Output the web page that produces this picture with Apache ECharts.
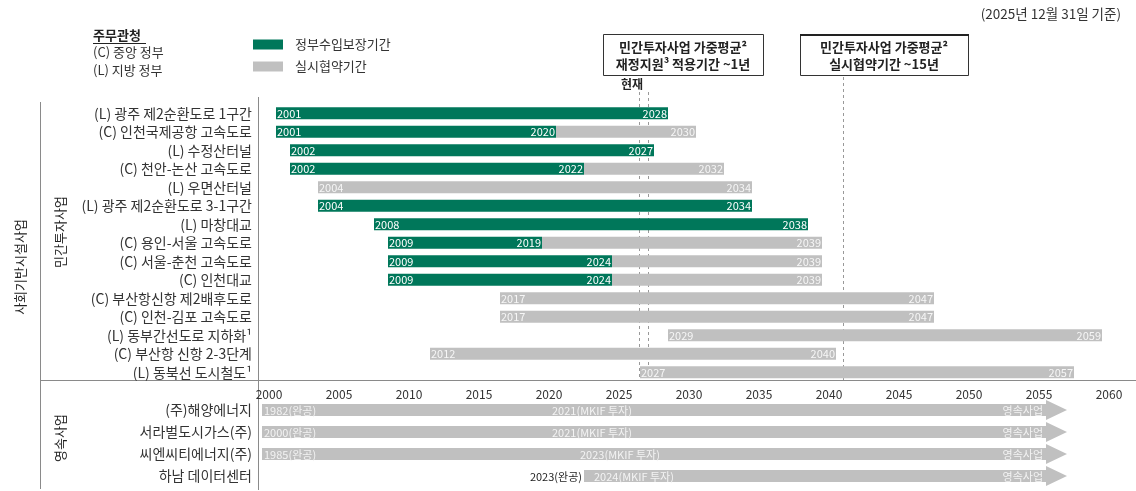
<!DOCTYPE html>
<html><head><meta charset="utf-8">
<script src="https://cdn.jsdelivr.net/npm/echarts@6/dist/echarts.min.js"></script>
<style>html,body{margin:0;padding:0;background:#fff}#c{width:1136px;height:491px}</style>
</head><body><div id="c"></div>
<script>
const FONT = "'Noto Sans CJK KR', 'Noto Sans', sans-serif";

// ---- data ----
const projects = [
  '(L) 광주 제2순환도로 1구간',
  '(C) 인천국제공항 고속도로',
  '(L) 수정산터널',
  '(C) 천안-논산 고속도로',
  '(L) 우면산터널',
  '(L) 광주 제2순환도로 3-1구간',
  '(L) 마창대교',
  '(C) 용인-서울 고속도로',
  '(C) 서울-춘천 고속도로',
  '(C) 인천대교',
  '(C) 부산항신항 제2배후도로',
  '(C) 인천-김포 고속도로',
  '(L) 동부간선도로 지하화¹',
  '(C) 부산항 신항 2-3단계',
  '(L) 동북선 도시철도¹'
];
const startYear    = [2001, 2001, 2002, 2002, 2004, 2004, 2008, 2009, 2009, 2009, 2017, 2017, 2029, 2012, 2027];
const guaranteeEnd = [2028, 2020, 2027, 2022, 0,    2034, 2038, 2019, 2024, 2024, 0,    0,    0,    0,    0];
const contractEnd  = [0,    2030, 0,    2032, 2034, 0,    0,    2039, 2039, 2039, 2047, 2047, 2059, 2040, 2057];

const perpetualNames = ['(주)해양에너지', '서라벌도시가스(주)', '씨엔씨티에너지(주)', '하남 데이터센터'];
const completionYear = [1982, 2000, 1985, 2023];
const mkifYear       = [2021, 2021, 2023, 2024];
const perpetualEnd   = 2056;

const axisTicks = [2000, 2005, 2010, 2015, 2020, 2025, 2030, 2035, 2040, 2045, 2050, 2055, 2060];
const nowLines = [2026.9, 2027.6];
const contractAvgLine = 2041.5;

// ---- build series data ----
const GREEN = '#00775a';
const GRAY = '#c0c0c0';
const greenData = [], grayData = [], permData = [];
projects.forEach((p, i) => {
  if (guaranteeEnd[i] > 0) greenData.push([i, startYear[i], guaranteeEnd[i] + 1, startYear[i], guaranteeEnd[i]]);
  if (contractEnd[i] > 0) {
    const hasG = guaranteeEnd[i] > 0;
    grayData.push([i, hasG ? guaranteeEnd[i] + 1 : startYear[i], contractEnd[i] + 1, hasG ? 0 : startYear[i], contractEnd[i]]);
  }
});
perpetualNames.forEach((n, i) => {
  permData.push([i, completionYear[i], perpetualEnd, completionYear[i], mkifYear[i]]);
});

function barRender(color, textFill) {
  return function (params, api) {
    const cat = api.value(0);
    const p0 = api.coord([api.value(1), cat]);
    const p1 = api.coord([api.value(2), cat]);
    const h = 12;
    const children = [{
      type: 'rect',
      shape: { x: p0[0], y: p0[1] - h / 2, width: p1[0] - p0[0], height: h },
      style: { fill: color }
    }];
    const sl = api.value(3);
    if (sl > 0) children.push({ type: 'text', style: { text: String(sl), x: p0[0] + 1, y: p0[1] + 0.5, align: 'left', verticalAlign: 'middle', fill: textFill, fontSize: 11, fontFamily: FONT } });
    children.push({ type: 'text', style: { text: String(api.value(4)), x: p1[0] - 1, y: p1[1] + 0.5, align: 'right', verticalAlign: 'middle', fill: textFill, fontSize: 11, fontFamily: FONT } });
    return { type: 'group', children };
  };
}

function permRender(params, api) {
  const cat = api.value(0);
  const axisMin = 2000;
  const comp = api.value(3), mk = api.value(4);
  const y = api.coord([axisMin, cat])[1];
  const x0 = api.coord([Math.max(api.value(1), axisMin), cat])[0];
  const x1 = api.coord([api.value(2), cat])[0];
  const h = 12, H = 20, L = 21;
  const children = [{
    type: 'polygon',
    shape: { points: [[x0, y - h / 2], [x1, y - h / 2], [x1, y - H / 2], [x1 + L, y], [x1, y + H / 2], [x1, y + h / 2], [x0, y + h / 2]] },
    style: { fill: GRAY }
  }];
  const inside = (mk - comp) >= 5;
  const lt = { fontSize: 11, fontFamily: FONT, verticalAlign: 'middle' };
  if (inside) {
    children.push({ type: 'text', style: Object.assign({ text: comp + '(완공)', x: x0 + 2, y: y + 0.5, align: 'left', fill: '#f3f3f3' }, lt) });
  } else {
    children.push({ type: 'text', style: Object.assign({ text: comp + '(완공)', x: x0 - 2, y: y + 0.5, align: 'right', fill: '#222' }, lt) });
  }
  const xm = Math.max(api.coord([mk, cat])[0] - 4, x0 + 3);
  children.push({ type: 'text', style: Object.assign({ text: mk + '(MKIF 투자)', x: xm, y: y + 0.5, align: 'left', fill: '#f3f3f3' }, lt) });
  children.push({ type: 'text', style: Object.assign({ text: '영속사업', x: x1 - 3, y: y + 0.5, align: 'right', fill: '#f3f3f3' }, lt) });
  return { type: 'group', children };
}

const chart = echarts.init(document.getElementById('c'), null, { renderer: 'canvas' });
const axisCommon = { type: 'value', min: 2000, max: 2060, interval: 5, splitLine: { show: false }, axisTick: { show: false }, axisLine: { show: false } };
chart.setOption({
  animation: false,
  textStyle: { fontFamily: FONT },
  legend: {
    data: [{ name: '정부수입보장기간', icon: 'rect' }, { name: '실시협약기간', icon: 'rect' }],
    left: 253, top: 38, padding: 0, orient: 'vertical', itemWidth: 30, itemHeight: 10, itemGap: 9,
    selectedMode: false, textStyle: { fontSize: 13, color: '#333', fontFamily: FONT, padding: [0, 0, 0, 7] }
  },
  grid: [
    { left: 262, right: 34, top: 104, height: 277.5 },
    { left: 262, right: 34, top: 399, height: 88 }
  ],
  xAxis: [
    Object.assign({}, axisCommon, { gridIndex: 0, axisLabel: { show: true, showMinLabel: true, showMaxLabel: true, fontSize: 12, color: '#333', margin: 7, padding: [0, 0, 0, 14], fontFamily: FONT, formatter: v => axisTicks.includes(v) ? String(v) : '' } }),
    Object.assign({}, axisCommon, { gridIndex: 1, axisLabel: { show: false } })
  ],
  yAxis: [
    { type: 'category', gridIndex: 0, data: projects, inverse: true, axisLine: { show: false }, axisTick: { show: false }, axisLabel: { fontSize: 14, color: '#333', margin: 10, fontFamily: FONT } },
    { type: 'category', gridIndex: 1, data: perpetualNames, inverse: true, axisLine: { show: false }, axisTick: { show: false }, axisLabel: { fontSize: 14, color: '#333', margin: 10, fontFamily: FONT } }
  ],
  series: [
    { name: '실시협약기간', type: 'custom', xAxisIndex: 0, yAxisIndex: 0, renderItem: barRender(GRAY, '#f6f6f6'), encode: { x: [1, 2], y: 0 }, itemStyle: { color: GRAY }, data: grayData },
    { name: '정부수입보장기간', type: 'custom', xAxisIndex: 0, yAxisIndex: 0, renderItem: barRender(GREEN, '#ffffff'), encode: { x: [1, 2], y: 0 }, itemStyle: { color: GREEN }, data: greenData },
    { name: '영속사업', type: 'custom', xAxisIndex: 1, yAxisIndex: 1, renderItem: permRender, encode: { x: [1, 2], y: 0 }, itemStyle: { color: GRAY }, data: permData }
  ]
});

// ---- annotations (reference lines positioned through the axis scale) ----
const px = v => chart.convertToPixel({ xAxisIndex: 0 }, v);
const LINE = '#8a8a8a';
const g = [];
nowLines.forEach(v => {
  const x = Math.round(px(v)) + 0.5;
  g.push({ type: 'line', shape: { x1: x, y1: 92, x2: x, y2: 380 }, style: { stroke: '#999', lineWidth: 1, lineDash: [3, 3] }, z: 1 });
});
{
  const x = Math.round(px(contractAvgLine)) + 0.5;
  g.push({ type: 'line', shape: { x1: x, y1: 77, x2: x, y2: 380 }, style: { stroke: '#999', lineWidth: 1, lineDash: [3, 3] }, z: 1 });
}
// frame lines
g.push({ type: 'line', shape: { x1: 40.5, y1: 102, x2: 40.5, y2: 489 }, style: { stroke: LINE, lineWidth: 1 } });
g.push({ type: 'line', shape: { x1: 258.5, y1: 97, x2: 258.5, y2: 490 }, style: { stroke: LINE, lineWidth: 1 } });
g.push({ type: 'line', shape: { x1: 40, y1: 380.5, x2: 1136, y2: 380.5 }, style: { stroke: LINE, lineWidth: 1 } });
// rotated group labels
const rot = (t, x, y) => ({ type: 'text', x: x, y: y, rotation: Math.PI / 2, style: { text: t, align: 'center', verticalAlign: 'middle', fontSize: 13, fill: '#222', fontFamily: FONT } });
g.push(rot('사회기반시설사업', 20, 267));
g.push(rot('민간투자사업', 60, 232));
g.push(rot('영속사업', 60, 438));
// date note
g.push({ type: 'text', style: { text: '(2025년 12월 31일 기준)', x: 1121, y: 14, align: 'right', verticalAlign: 'middle', fontSize: 13.5, fill: '#333', fontFamily: FONT } });
// 주무관청 legend
g.push({ type: 'text', style: { text: '주무관청', x: 93, y: 35, align: 'left', verticalAlign: 'middle', fontSize: 13, fontWeight: 'bold', fill: '#222', fontFamily: FONT } });
g.push({ type: 'line', shape: { x1: 93, y1: 43.5, x2: 146, y2: 43.5 }, style: { stroke: '#222', lineWidth: 1 } });
g.push({ type: 'text', style: { text: '(C) 중앙 정부', x: 93, y: 52, align: 'left', verticalAlign: 'middle', fontSize: 13, fill: '#333', fontFamily: FONT } });
g.push({ type: 'text', style: { text: '(L) 지방 정부', x: 93, y: 70, align: 'left', verticalAlign: 'middle', fontSize: 13, fill: '#333', fontFamily: FONT } });
// boxes
const box = (x, w, l1, l2, thickTop) => {
  g.push({ type: 'rect', shape: { x: x + 0.5, y: 34.5, width: w, height: 41 }, style: { fill: '#fff', stroke: '#333', lineWidth: 1 } });
  if (thickTop) g.push({ type: 'line', shape: { x1: x, y1: 35, x2: x + w + 1, y2: 35 }, style: { stroke: '#222', lineWidth: 2 } });
  g.push({ type: 'text', style: { text: l1, x: x + w / 2, y: 47, align: 'center', verticalAlign: 'middle', fontSize: 13, fontWeight: 'bold', fill: '#222', fontFamily: FONT } });
  g.push({ type: 'text', style: { text: l2, x: x + w / 2, y: 64, align: 'center', verticalAlign: 'middle', fontSize: 13, fontWeight: 'bold', fill: '#222', fontFamily: FONT } });
};
box(603, 160, '민간투자사업 가중평균²', '재정지원³ 적용기간 ~1년', false);
box(800, 168, '민간투자사업 가중평균²', '실시협약기간 ~15년', true);
g.push({ type: 'text', style: { text: '현재', x: 632, y: 84, align: 'center', verticalAlign: 'middle', fontSize: 12, fontWeight: 'bold', fill: '#222', fontFamily: FONT } });

chart.setOption({ graphic: g });
</script>
</body></html>
